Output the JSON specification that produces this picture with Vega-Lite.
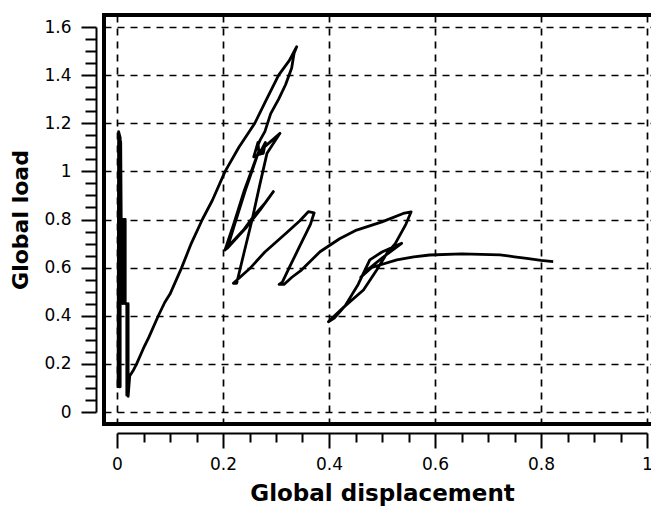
{
  "$schema": "https://vega.github.io/schema/vega-lite/v6.json",
  "width": 551,
  "height": 409,
  "autosize": {"type": "none"},
  "padding": {"left": 104, "top": 15, "right": -4, "bottom": 82},
  "background": "white",
  "config": {
    "view": {"stroke": "black", "strokeWidth": 4},
    "axis": {
      "labelFont": "DejaVu Sans",
      "labelFontSize": 17,
      "labelColor": "black",
      "titleFont": "DejaVu Sans",
      "titleFontWeight": "bold",
      "titleColor": "black",
      "domainColor": "black",
      "domainWidth": 2,
      "tickColor": "black",
      "tickWidth": 2,
      "labelFlush": false,
      "labelOverlap": false,
      "labelBound": false,
      "format": "~g"
    }
  },
  "data": {
    "values": [
      {"displacement": 0.002, "load": 0.10},
      {"displacement": 0.003, "load": 1.165},
      {"displacement": 0.006, "load": 1.14},
      {"displacement": 0.006, "load": 0.105},
      {"displacement": 0.0045, "load": 0.105},
      {"displacement": 0.0045, "load": 1.15},
      {"displacement": 0.007, "load": 1.12},
      {"displacement": 0.008, "load": 0.80},
      {"displacement": 0.011, "load": 0.80},
      {"displacement": 0.011, "load": 0.45},
      {"displacement": 0.0135, "load": 0.80},
      {"displacement": 0.0155, "load": 0.80},
      {"displacement": 0.0155, "load": 0.45},
      {"displacement": 0.0185, "load": 0.45},
      {"displacement": 0.0185, "load": 0.07},
      {"displacement": 0.021, "load": 0.45},
      {"displacement": 0.021, "load": 0.065},
      {"displacement": 0.024, "load": 0.15},
      {"displacement": 0.03, "load": 0.17},
      {"displacement": 0.037, "load": 0.20},
      {"displacement": 0.05, "load": 0.265},
      {"displacement": 0.06, "load": 0.31},
      {"displacement": 0.078, "load": 0.40},
      {"displacement": 0.09, "load": 0.455},
      {"displacement": 0.10, "load": 0.49},
      {"displacement": 0.122, "load": 0.60},
      {"displacement": 0.14, "load": 0.70},
      {"displacement": 0.161, "load": 0.80},
      {"displacement": 0.18, "load": 0.88},
      {"displacement": 0.204, "load": 1.0},
      {"displacement": 0.23, "load": 1.10},
      {"displacement": 0.26, "load": 1.20},
      {"displacement": 0.28, "load": 1.29},
      {"displacement": 0.305, "load": 1.40},
      {"displacement": 0.325, "load": 1.46},
      {"displacement": 0.339, "load": 1.518},
      {"displacement": 0.334, "load": 1.49},
      {"displacement": 0.3296, "load": 1.43},
      {"displacement": 0.318, "load": 1.36},
      {"displacement": 0.305, "load": 1.30},
      {"displacement": 0.29, "load": 1.24},
      {"displacement": 0.279, "load": 1.165},
      {"displacement": 0.27, "load": 1.13},
      {"displacement": 0.262, "load": 1.09},
      {"displacement": 0.258, "load": 1.06},
      {"displacement": 0.266, "load": 1.12},
      {"displacement": 0.268, "load": 1.07},
      {"displacement": 0.28, "load": 1.12},
      {"displacement": 0.276, "load": 1.075},
      {"displacement": 0.265, "load": 1.07},
      {"displacement": 0.24, "load": 0.92},
      {"displacement": 0.22, "load": 0.78},
      {"displacement": 0.2038, "load": 0.673},
      {"displacement": 0.215, "load": 0.70},
      {"displacement": 0.24, "load": 0.76},
      {"displacement": 0.26, "load": 0.82},
      {"displacement": 0.28, "load": 0.87},
      {"displacement": 0.295, "load": 0.916},
      {"displacement": 0.27, "load": 0.84},
      {"displacement": 0.245, "load": 0.77},
      {"displacement": 0.208, "load": 0.68},
      {"displacement": 0.222, "load": 0.78},
      {"displacement": 0.242, "load": 0.92},
      {"displacement": 0.267, "load": 1.08},
      {"displacement": 0.3075, "load": 1.158},
      {"displacement": 0.283, "load": 1.075},
      {"displacement": 0.27, "load": 0.95},
      {"displacement": 0.255, "load": 0.80},
      {"displacement": 0.24, "load": 0.665},
      {"displacement": 0.2258, "load": 0.535},
      {"displacement": 0.2195, "load": 0.535},
      {"displacement": 0.25, "load": 0.595},
      {"displacement": 0.279, "load": 0.665},
      {"displacement": 0.32, "load": 0.745},
      {"displacement": 0.345, "load": 0.795},
      {"displacement": 0.361, "load": 0.8325},
      {"displacement": 0.372, "load": 0.828},
      {"displacement": 0.365, "load": 0.78},
      {"displacement": 0.345, "load": 0.69},
      {"displacement": 0.325, "load": 0.60},
      {"displacement": 0.312, "load": 0.54},
      {"displacement": 0.306, "load": 0.53},
      {"displacement": 0.315, "load": 0.53},
      {"displacement": 0.33, "load": 0.56},
      {"displacement": 0.348, "load": 0.59},
      {"displacement": 0.383, "load": 0.666},
      {"displacement": 0.42, "load": 0.72},
      {"displacement": 0.452, "load": 0.756},
      {"displacement": 0.50, "load": 0.79},
      {"displacement": 0.54, "load": 0.825},
      {"displacement": 0.555, "load": 0.832},
      {"displacement": 0.545, "load": 0.78},
      {"displacement": 0.525, "load": 0.70},
      {"displacement": 0.509, "load": 0.659},
      {"displacement": 0.49, "load": 0.59},
      {"displacement": 0.465, "load": 0.507},
      {"displacement": 0.43, "load": 0.44},
      {"displacement": 0.402, "load": 0.382},
      {"displacement": 0.399, "load": 0.375},
      {"displacement": 0.41, "load": 0.39},
      {"displacement": 0.43, "load": 0.44},
      {"displacement": 0.455, "load": 0.53},
      {"displacement": 0.477, "load": 0.632},
      {"displacement": 0.50, "load": 0.665},
      {"displacement": 0.537, "load": 0.701},
      {"displacement": 0.50, "load": 0.64},
      {"displacement": 0.475, "load": 0.595},
      {"displacement": 0.46, "load": 0.56},
      {"displacement": 0.48, "load": 0.60},
      {"displacement": 0.496, "load": 0.611},
      {"displacement": 0.528, "load": 0.632},
      {"displacement": 0.56, "load": 0.645},
      {"displacement": 0.59, "load": 0.6525},
      {"displacement": 0.65, "load": 0.657},
      {"displacement": 0.7226, "load": 0.653},
      {"displacement": 0.75, "load": 0.645},
      {"displacement": 0.773, "load": 0.638},
      {"displacement": 0.80, "load": 0.63},
      {"displacement": 0.823, "load": 0.625}
    ]
  },
  "resolve": {
    "scale": {"x": "independent", "y": "independent"},
    "axis": {"x": "independent", "y": "independent"}
  },
  "layer": [
    {
      "mark": {"type": "point", "opacity": 0},
      "encoding": {
        "x": {
          "field": "displacement",
          "type": "quantitative",
          "scale": {"domain": [-0.024528, 1.015094], "nice": false, "zero": false},
          "axis": {
            "orient": "bottom",
            "values": [0, 0.2, 0.4, 0.6, 0.8, 1],
            "grid": true,
            "gridColor": "black",
            "gridDash": [7, 6],
            "gridWidth": 1.7,
            "domain": false,
            "ticks": false,
            "labels": false,
            "title": null
          }
        },
        "y": {
          "field": "load",
          "type": "quantitative",
          "scale": {"domain": [-0.04987, 1.64987], "nice": false, "zero": false},
          "axis": {
            "orient": "left",
            "values": [0, 0.2, 0.4, 0.6, 0.8, 1, 1.2, 1.4, 1.6],
            "grid": true,
            "gridColor": "black",
            "gridDash": [7, 6],
            "gridWidth": 1.7,
            "domain": false,
            "ticks": false,
            "labels": false,
            "title": null
          }
        }
      }
    },
    {
      "mark": {"type": "line", "color": "black", "strokeWidth": 2.8, "strokeJoin": "round"},
      "encoding": {
        "order": {"value": null},
        "x": {
          "field": "displacement",
          "type": "quantitative",
          "scale": {"domain": [0, 1], "range": [13, 543], "nice": false, "zero": false},
          "axis": {
            "orient": "bottom",
            "offset": 9,
            "grid": false,
            "values": [0, 0.05, 0.1, 0.15, 0.2, 0.25, 0.3, 0.35, 0.4, 0.45, 0.5, 0.55, 0.6, 0.65, 0.7, 0.75, 0.8, 0.85, 0.9, 0.95, 1],
            "tickSize": {"condition": {"test": "abs(datum.value * 5 - round(datum.value * 5)) < 0.001", "value": 15}, "value": 9},
            "labelExpr": "abs(datum.value * 5 - round(datum.value * 5)) < 0.001 ? datum.label : ''",
            "labelPadding": 8,
            "title": "Global displacement",
            "titleFontSize": 23,
            "titlePadding": 10
          }
        },
        "y": {
          "field": "load",
          "type": "quantitative",
          "scale": {"domain": [0, 1.6], "range": [397, 12], "nice": false, "zero": false},
          "axis": {
            "orient": "left",
            "offset": 8,
            "grid": false,
            "values": [0, 0.05, 0.1, 0.15, 0.2, 0.25, 0.3, 0.35, 0.4, 0.45, 0.5, 0.55, 0.6, 0.65, 0.7, 0.75, 0.8, 0.85, 0.9, 0.95, 1, 1.05, 1.1, 1.15, 1.2, 1.25, 1.3, 1.35, 1.4, 1.45, 1.5, 1.55, 1.6],
            "tickSize": {"condition": {"test": "abs(datum.value * 5 - round(datum.value * 5)) < 0.001", "value": 15}, "value": 11},
            "labelExpr": "abs(datum.value * 5 - round(datum.value * 5)) < 0.001 ? datum.label : ''",
            "labelPadding": 10,
            "title": "Global load",
            "titleFontSize": 22,
            "titlePadding": 11
          }
        }
      }
    }
  ]
}
